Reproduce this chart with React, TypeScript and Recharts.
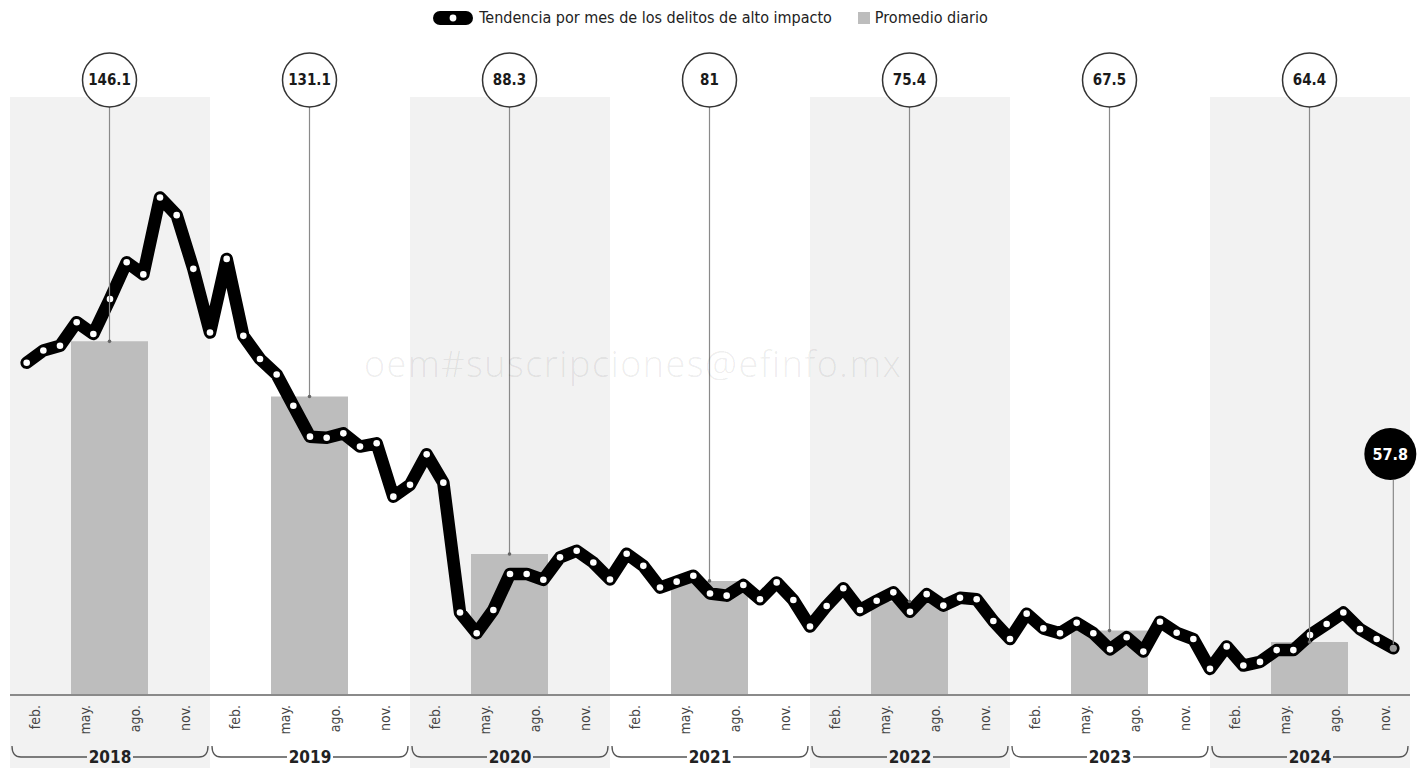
import React from 'react';
import { ComposedChart, Bar, Line, XAxis, YAxis, ReferenceArea, LabelList } from 'recharts';

// ---------- data ----------
const years = ['2018', '2019', '2020', '2021', '2022', '2023', '2024'];
const monthNames = ['ene.', 'feb.', 'mar.', 'abr.', 'may.', 'jun.', 'jul.', 'ago.', 'sep.', 'oct.', 'nov.', 'dic.'];
const tickMonthIdx = [1, 4, 7, 10];
const dailyAverage = [146.1, 131.1, 88.3, 81, 75.4, 67.5, 64.4];
const monthlyTrend = [
  // 2018
  140.3, 143.6, 144.9, 151.3, 148.1, 157.6, 167.6, 164.3, 185.2, 180.4, 165.8, 148.5,
  // 2019
  168.5, 147.6, 141.3, 137.1, 128.6, 120.2, 119.9, 121.1, 117.5, 118.4, 103.9, 107.1,
  // 2020
  115.4, 107.7, 72.4, 66.8, 73.1, 82.9, 82.9, 81.3, 87.4, 89.2, 86.0, 81.4,
  // 2021
  88.4, 85.1, 79.2, 80.8, 82.4, 77.6, 77.0, 79.9, 76.0, 80.6, 75.8, 68.6,
  // 2022
  74.2, 79.0, 73.1, 75.6, 77.9, 72.6, 77.4, 74.3, 76.4, 76.0, 70.1, 65.2,
  // 2023
  72.1, 68.1, 66.8, 69.6, 66.8, 62.4, 65.7, 61.8, 69.9, 66.9, 65.2, 57.1,
  // 2024 (ene.-nov.)
  63.2, 58.0, 59.0, 62.2, 62.2, 66.3, 69.3, 72.4, 67.9, 65.2, 62.7,
];
const latestMonthLabel = 57.8;
const legendLine = 'Tendencia por mes de los delitos de alto impacto';
const legendBar = 'Promedio diario';
const watermark = 'oem#suscripciones@efinfo.mx';

const barData = years.map((y, k) => ({ x: 12 * k + 6, year: y, prom: dailyAverage[k] }));
const lineData = monthlyTrend.map((v, i) => ({ x: i + 1, v }));
const monthTicks = years.flatMap((_, k) => tickMonthIdx.map((m) => 12 * k + m + 0.5));

// ---------- layout ----------
const W = 1421;
const H = 768;
const MARGIN = { top: 97, right: 11, bottom: 0, left: 10 };
const PLOT_W = W - MARGIN.left - MARGIN.right;
const MONTH_PX = PLOT_W / 84;
const FONT = '"Liberation Sans Narrow", "DejaVu Sans Condensed", "Roboto Condensed", "Liberation Sans", sans-serif';
const BAND = '#f2f2f2';
const BAR = '#bdbdbd';

const MonthTick = (props: any) => {
  const { x, y, index } = props;
  const k = Math.floor(index / 4);
  const j = index % 4;
  const shaded = k % 2 === 0;
  const label = monthNames[tickMonthIdx[j]];
  let bracket = null;
  if (j === 3) {
    const x0 = x - 10.5 * MONTH_PX + 2;
    const x1 = x + 1.5 * MONTH_PX - 2;
    const mid = (x0 + x1) / 2;
    const top = y + 51;
    const bot = y + 62;
    bracket = (
      <g>
        <path
          d={`M ${x0} ${top} Q ${x0} ${bot} ${x0 + 9} ${bot} L ${mid - 23} ${bot} M ${mid + 23} ${bot} L ${x1 - 9} ${bot} Q ${x1} ${bot} ${x1} ${top}`}
          fill="none"
          stroke="#555"
          strokeWidth={1.3}
        />
        <text x={mid} y={y + 68} textAnchor="middle" fontFamily={FONT} fontWeight={700} fontSize={17} fill="#222">
          {years[k]}
        </text>
      </g>
    );
  }
  return (
    <g>
      <rect
        x={x - 1.5 * MONTH_PX}
        y={y + 1}
        width={3 * MONTH_PX}
        height={H - y}
        fill={shaded ? BAND : '#ffffff'}
      />
      <text
        transform={`translate(${x}, ${y + 10}) rotate(-90)`}
        textAnchor="end"
        dy="0.35em"
        fontFamily={FONT}
        fontSize={14}
        fill="#444"
      >
        {label}
      </text>
      {bracket}
    </g>
  );
};

const renderBarLabel = (props: any) => {
  const { x, y, width, value } = props;
  const cx = x + width / 2;
  const cy = 80;
  const r = 27;
  return (
    <g>
      <line x1={cx} y1={cy + r} x2={cx} y2={y} stroke="#8a8a8a" strokeWidth={1.2} />
      <circle cx={cx} cy={y} r={1.8} fill="#666" />
      <circle cx={cx} cy={cy} r={r} fill="#fff" stroke="#333" strokeWidth={1.5} />
      <text x={cx} y={cy} dy="0.36em" textAnchor="middle" fontFamily={FONT} fontWeight={700} fontSize={15} fill="#1a1a1a">
        {value}
      </text>
    </g>
  );
};

const renderLatest = (props: any) => {
  const { x, y, index } = props;
  if (index !== lineData.length - 1) return null;
  const cx = x - 3;
  const cy = 454;
  return (
    <g>
      <line x1={x} y1={cy + 26} x2={x} y2={y - 4} stroke="#8a8a8a" strokeWidth={1.2} />
      <circle cx={cx} cy={cy} r={26} fill="#000" />
      <text x={cx} y={cy} dy="0.36em" textAnchor="middle" fontFamily={FONT} fontWeight={700} fontSize={16} fill="#fff">
        {latestMonthLabel}
      </text>
    </g>
  );
};

const renderDot = (props: any) => {
  const { cx, cy, index } = props;
  const last = index === lineData.length - 1;
  return (
    <circle
      key={`d${index}`}
      cx={cx}
      cy={cy}
      r={last ? 3.6 : 3.3}
      fill={last ? '#9a9a9a' : '#ffffff'}
      stroke="none"
    />
  );
};

export default function App() {
  return (
    <div style={{ position: 'absolute', left: 0, top: 0, width: W, height: H, background: '#fff', overflow: 'hidden' }}>
      <ComposedChart width={W} height={H} data={barData} margin={MARGIN}>
        {years.map((y, k) =>
          k % 2 === 0 ? (
            <ReferenceArea
              key={y}
              x1={12 * k}
              x2={12 * k + 12}
              y1={50}
              y2={212.5}
              fill={BAND}
              fillOpacity={1}
              stroke="none"
              ifOverflow="hidden"
            />
          ) : null
        )}
        <XAxis
          dataKey="x"
          type="number"
          domain={[0, 84]}
          allowDataOverflow
          ticks={monthTicks}
          interval={0}
          height={73}
          tickSize={0}
          tickMargin={0}
          tickLine={false}
          axisLine={{ stroke: '#8a8a8a', strokeWidth: 2 }}
          tick={<MonthTick />}
        />
        <XAxis xAxisId="line" dataKey="x" type="number" domain={[0, 84]} allowDataOverflow hide />
        <YAxis
          type="number"
          domain={[50, 212.5]}
          allowDataOverflow
          width={0}
          tick={false}
          tickLine={false}
          axisLine={{ stroke: '#8a8a8a', strokeWidth: 1 }}
        />
        <Bar dataKey="prom" fill={BAR} barSize={77} isAnimationActive={false}>
          <LabelList dataKey="prom" content={renderBarLabel} />
        </Bar>
        <Line
          xAxisId="line"
          data={lineData}
          dataKey="v"
          type="linear"
          stroke="#000"
          strokeWidth={12.5}
          strokeLinejoin="round"
          strokeLinecap="round"
          dot={renderDot}
          activeDot={false}
          isAnimationActive={false}
        >
          <LabelList dataKey="v" content={renderLatest} />
        </Line>
      </ComposedChart>

      <div
        style={{
          position: 'absolute',
          left: 364,
          top: 346,
          fontFamily: '"Open Sans", "DejaVu Sans", sans-serif',
          fontWeight: 300,
          fontSize: 36,
          letterSpacing: 1.5,
          color: 'rgba(0,0,0,0.08)',
          whiteSpace: 'nowrap',
          pointerEvents: 'none',
          lineHeight: '36px',
        }}
      >
        {watermark}
      </div>

      <div
        style={{
          position: 'absolute',
          left: 0,
          top: 8,
          width: W,
          display: 'flex',
          justifyContent: 'center',
          alignItems: 'center',
          fontFamily: FONT,
          fontSize: 16,
          color: '#222',
          whiteSpace: 'nowrap',
        }}
      >
        <svg width={40} height={14} style={{ marginRight: 6 }}>
          <rect x={0} y={0} width={40} height={14} rx={7} fill="#000" />
          <circle cx={20} cy={7} r={3.4} fill="#fff" />
        </svg>
        <span>{legendLine}</span>
        <span style={{ display: 'inline-block', width: 12, height: 12, background: BAR, marginLeft: 26, marginRight: 5 }} />
        <span>{legendBar}</span>
      </div>
    </div>
  );
}
